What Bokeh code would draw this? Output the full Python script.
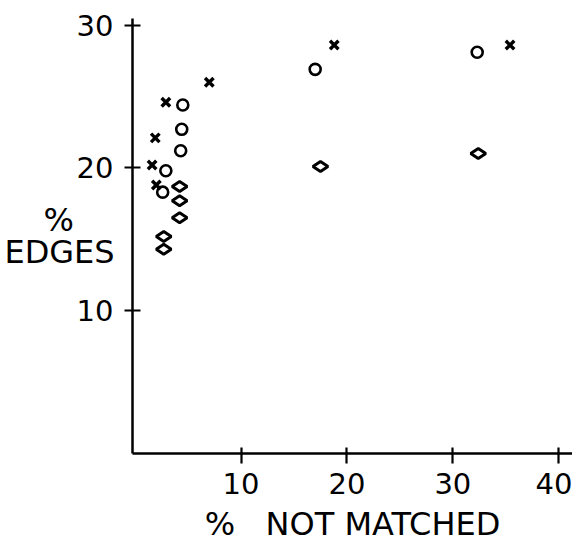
import math
from bokeh.plotting import figure
from bokeh.models import FixedTicker, Range1d
from bokeh.embed import file_html
from bokeh.resources import INLINE

# Data
cross_x = [1.6, 1.9, 2.0, 2.9, 7.0, 18.8, 35.4]
cross_y = [20.2, 22.1, 18.8, 24.6, 26.0, 28.6, 28.6]

circle_x = [2.6, 2.9, 4.3, 4.4, 4.5, 17.0, 32.3]
circle_y = [18.3, 19.8, 21.2, 22.7, 24.4, 26.9, 28.1]

diamond_x = [2.7, 2.7, 4.2, 4.2, 4.2, 17.5, 32.4]
diamond_y = [14.3, 15.2, 16.5, 17.7, 18.7, 20.1, 21.0]

x_ticks = [10, 20, 30, 40]
y_ticks = [10, 20, 30]

FONT = "DejaVu Sans"
NB = "\u00a0"

p = figure(width=572, height=545, output_backend="svg", toolbar_location=None,
           x_range=Range1d(-0.25, 41.3), y_range=Range1d(0, 30.46),
           min_border_left=132, min_border_right=0, min_border_top=18,
           min_border_bottom=92)
p.outline_line_color = None
p.grid.visible = False
p.background_fill_color = "white"
p.border_fill_color = "white"

for ax, ticks in ((p.xaxis[0], x_ticks), (p.yaxis[0], y_ticks)):
    ax.ticker = FixedTicker(ticks=ticks)
    ax.minor_tick_line_color = None
    ax.axis_line_width = 2.5
    ax.axis_line_color = "black"
    ax.major_tick_line_width = 2.2
    ax.major_tick_line_color = "black"
    ax.major_label_text_font = FONT
    ax.major_label_text_font_size = "29px"
    ax.major_label_text_color = "black"
    ax.axis_label_text_font = FONT
    ax.axis_label_text_font_size = "32px"
    ax.axis_label_text_font_style = "normal"
    ax.axis_label_text_color = "black"

p.xaxis.major_tick_in = 6
p.xaxis.major_tick_out = 10
p.xaxis.major_label_standoff = 9
p.xaxis.axis_label = "%" + NB + NB + " NOT MATCHED"
p.xaxis.axis_label_text_line_height = 0.5
p.xaxis.axis_label_standoff = 8

p.yaxis.major_tick_in = 8
p.yaxis.major_tick_out = 8
p.yaxis.major_label_standoff = 11
p.yaxis.axis_label = "%" + NB * 4 + "\nEDGES"
p.yaxis.axis_label_orientation = "horizontal"
p.yaxis.axis_label_text_line_height = 0.85
p.yaxis.axis_label_standoff = -41

p.scatter(cross_x, cross_y, marker="x", size=12, line_width=3.4,
          line_color="black")
p.scatter(circle_x, circle_y, marker="circle", size=11, line_width=2.6,
          line_color="black", fill_color=None)
p.scatter(diamond_x, diamond_y, marker="diamond", angle=math.pi / 2, size=15,
          line_width=3, line_color="black", fill_color="white")

open("out.html", "w").write(file_html(p, INLINE))
